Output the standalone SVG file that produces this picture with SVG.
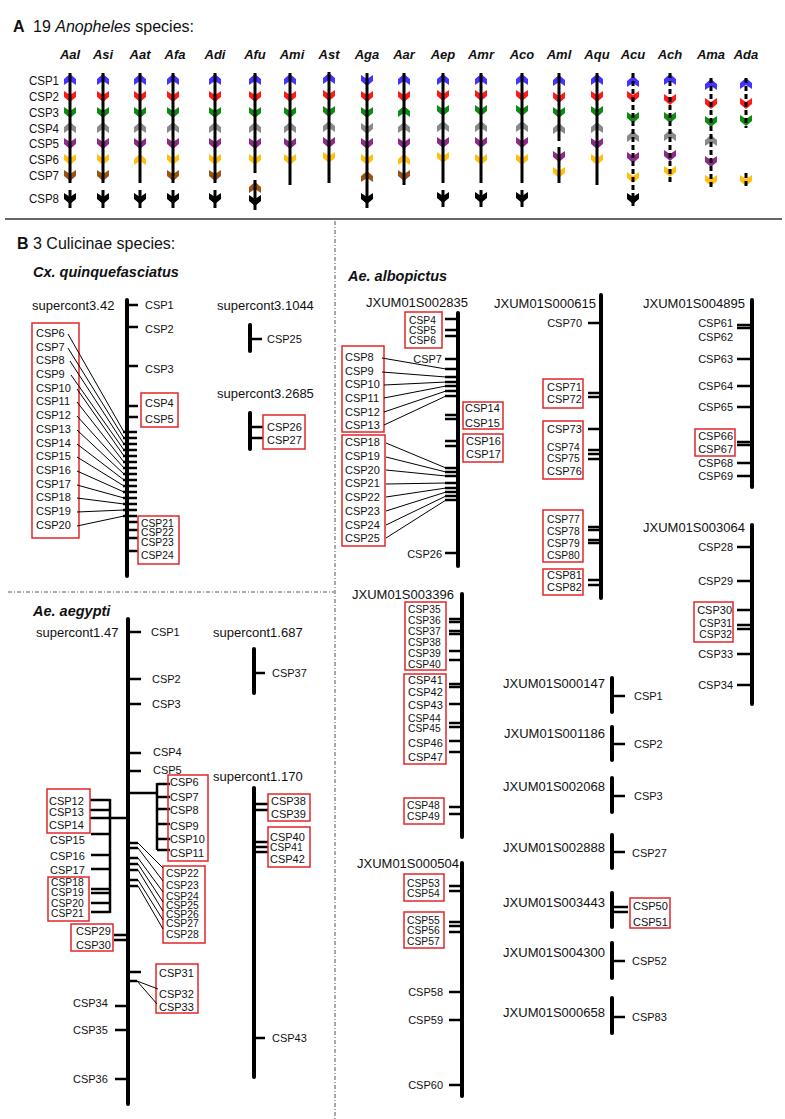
<svg xmlns="http://www.w3.org/2000/svg" xmlns:xlink="http://www.w3.org/1999/xlink" width="785" height="1119" viewBox="0 0 785 1119">
<style>
text{font-family:"Liberation Sans",Arial,sans-serif;fill:#111}
.s{font-size:11px}
.n{font-size:10.3px}
.L{font-size:13px}
.r{font-size:12.5px}
.e{text-anchor:end}
.m{text-anchor:middle}
.sp{font-size:13px;font-weight:bold;font-style:italic;text-anchor:middle}
.ttl{font-size:16px}
.sub{font-size:14.5px;font-weight:bold;font-style:italic}
.la{stroke:#000;stroke-width:3;fill:none}
.ld{stroke:#000;stroke-width:3;fill:none;stroke-dasharray:5 3}
.chr{stroke:#000;stroke-width:4;stroke-linecap:round;fill:none}
.tk{stroke:#000;stroke-width:2.5;fill:none}
.th{stroke:#000;stroke-width:1;fill:none}
.box{fill:none;stroke:#e3262a;stroke-width:1.5}
.dd{stroke:#555;stroke-width:1;stroke-dasharray:4 2 1 2;fill:none}
.c1{fill:#4433ff}.c2{fill:#ff1a1a}.c3{fill:#0f8a12}.c4{fill:#8a8a8a}.c5{fill:#8e2a8a}.c6{fill:#ffc010}.c7{fill:#9a5418}.c8{fill:#000}
</style>
<defs>
<path id="u" d="M0,-6L6,-1L6,5L0,1L-6,5L-6,-1Z"/>
<path id="d" d="M0,6L6,1L6,-5L0,-1L-6,-5L-6,1Z"/>
</defs>
<rect width="785" height="1119" fill="#fff"/>

<!-- Panel A -->
<g id="panelA-title">
<text x="13" y="32" style="font-size:16px;font-weight:bold">A</text>
<text x="33" y="32" class="ttl">19 <tspan font-style="italic">Anopheles</tspan> species:</text>
</g>
<g id="rowlabels">
<text x="29" y="85" class="r" textLength="30" lengthAdjust="spacingAndGlyphs">CSP1</text>
<text x="29" y="101" class="r" textLength="30" lengthAdjust="spacingAndGlyphs">CSP2</text>
<text x="29" y="117" class="r" textLength="30" lengthAdjust="spacingAndGlyphs">CSP3</text>
<text x="29" y="133" class="r" textLength="30" lengthAdjust="spacingAndGlyphs">CSP4</text>
<text x="29" y="148" class="r" textLength="30" lengthAdjust="spacingAndGlyphs">CSP5</text>
<text x="29" y="164" class="r" textLength="30" lengthAdjust="spacingAndGlyphs">CSP6</text>
<text x="29" y="180" class="r" textLength="30" lengthAdjust="spacingAndGlyphs">CSP7</text>
<text x="29" y="203" class="r" textLength="30" lengthAdjust="spacingAndGlyphs">CSP8</text>
</g>
<g id="specieslabels">
<text x="70" y="59" class="sp">Aal</text>
<text x="103" y="59" class="sp">Asi</text>
<text x="140" y="59" class="sp">Aat</text>
<text x="175" y="59" class="sp">Afa</text>
<text x="215" y="59" class="sp">Adi</text>
<text x="255" y="59" class="sp">Afu</text>
<text x="292" y="59" class="sp">Ami</text>
<text x="329" y="59" class="sp">Ast</text>
<text x="367" y="59" class="sp">Aga</text>
<text x="404" y="59" class="sp">Aar</text>
<text x="443" y="59" class="sp">Aep</text>
<text x="481" y="59" class="sp">Amr</text>
<text x="522" y="59" class="sp">Aco</text>
<text x="559" y="59" class="sp">Aml</text>
<text x="597" y="59" class="sp">Aqu</text>
<text x="633" y="59" class="sp">Acu</text>
<text x="670" y="59" class="sp">Ach</text>
<text x="711" y="59" class="sp">Ama</text>
<text x="746" y="59" class="sp">Ada</text>
</g>

<g id="Aal">
<use href="#u" x="70" y="80" class="c1"/><use href="#d" x="70" y="96" class="c2"/><use href="#d" x="70" y="112" class="c3"/><use href="#u" x="70" y="128" class="c4"/><use href="#d" x="70" y="143" class="c5"/><use href="#d" x="70" y="159" class="c6"/><use href="#d" x="70" y="175" class="c7"/><use href="#d" x="70" y="198" class="c8"/>
<line x1="70" y1="73" x2="70" y2="183" class="la"/><line x1="70" y1="190" x2="70" y2="208" class="la"/>
</g>
<g id="Asi">
<use href="#u" x="103" y="80" class="c1"/><use href="#d" x="103" y="96" class="c2"/><use href="#d" x="103" y="112" class="c3"/><use href="#u" x="103" y="128" class="c4"/><use href="#d" x="103" y="143" class="c5"/><use href="#d" x="103" y="159" class="c6"/><use href="#d" x="103" y="175" class="c7"/><use href="#d" x="103" y="198" class="c8"/>
<line x1="103" y1="73" x2="103" y2="183" class="la"/><line x1="103" y1="190" x2="103" y2="208" class="la"/>
</g>
<g id="Aat">
<use href="#u" x="140" y="80" class="c1"/><use href="#d" x="140" y="96" class="c2"/><use href="#d" x="140" y="112" class="c3"/><use href="#u" x="140" y="128" class="c4"/><use href="#d" x="140" y="143" class="c5"/><use href="#u" x="140" y="160" class="c6"/><use href="#d" x="140" y="198" class="c8"/>
<line x1="140" y1="73" x2="140" y2="183" class="la"/><line x1="140" y1="190" x2="140" y2="208" class="la"/>
</g>
<g id="Afa">
<use href="#u" x="173" y="80" class="c1"/><use href="#d" x="173" y="96" class="c2"/><use href="#d" x="173" y="112" class="c3"/><use href="#u" x="173" y="128" class="c4"/><use href="#d" x="173" y="143" class="c5"/><use href="#d" x="173" y="159" class="c6"/><use href="#d" x="173" y="175" class="c7"/><use href="#d" x="173" y="198" class="c8"/>
<line x1="173" y1="73" x2="173" y2="183" class="la"/><line x1="173" y1="190" x2="173" y2="208" class="la"/>
</g>
<g id="Adi">
<use href="#u" x="215" y="80" class="c1"/><use href="#d" x="215" y="96" class="c2"/><use href="#d" x="215" y="112" class="c3"/><use href="#u" x="215" y="128" class="c4"/><use href="#d" x="215" y="143" class="c5"/><use href="#d" x="215" y="159" class="c6"/><use href="#d" x="215" y="175" class="c7"/><use href="#d" x="215" y="198" class="c8"/>
<line x1="215" y1="73" x2="215" y2="183" class="la"/><line x1="215" y1="190" x2="215" y2="208" class="la"/>
</g>
<g id="Afu">
<use href="#u" x="255" y="80" class="c1"/><use href="#d" x="255" y="96" class="c2"/><use href="#d" x="255" y="112" class="c3"/><use href="#u" x="255" y="128" class="c4"/><use href="#d" x="255" y="143" class="c5"/><use href="#d" x="255" y="159" class="c6"/><use href="#u" x="255" y="188" class="c7"/><use href="#d" x="255" y="200" class="c8"/>
<line x1="255" y1="73" x2="255" y2="173" class="la"/><line x1="255" y1="180" x2="255" y2="210" class="la"/>
</g>
<g id="Ami">
<use href="#u" x="290" y="80" class="c1"/><use href="#d" x="290" y="96" class="c2"/><use href="#d" x="290" y="112" class="c3"/><use href="#u" x="290" y="128" class="c4"/><use href="#d" x="290" y="143" class="c5"/><use href="#d" x="290" y="159" class="c6"/>
<line x1="290" y1="73" x2="290" y2="185" class="la"/>
</g>
<g id="Ast">
<use href="#u" x="329" y="79" class="c1"/><use href="#d" x="329" y="95" class="c2"/><use href="#d" x="329" y="111" class="c3"/><use href="#u" x="329" y="127" class="c4"/><use href="#d" x="329" y="142" class="c5"/><use href="#d" x="329" y="157" class="c6"/>
<line x1="329" y1="72" x2="329" y2="183" class="la"/>
</g>
<g id="Aga">
<use href="#d" x="367" y="80" class="c1"/><use href="#d" x="367" y="96" class="c2"/><use href="#d" x="367" y="112" class="c3"/><use href="#d" x="367" y="128" class="c4"/><use href="#d" x="367" y="143" class="c5"/><use href="#d" x="367" y="159" class="c6"/><use href="#u" x="367" y="177" class="c7"/><use href="#d" x="367" y="198" class="c8"/>
<line x1="367" y1="73" x2="367" y2="208" class="la"/>
</g>
<g id="Aar">
<use href="#u" x="404" y="80" class="c1"/><use href="#d" x="404" y="96" class="c2"/><use href="#u" x="404" y="112" class="c3"/><use href="#u" x="404" y="128" class="c4"/><use href="#d" x="404" y="143" class="c5"/><use href="#u" x="404" y="160" class="c6"/><use href="#d" x="404" y="175" class="c7"/>
<line x1="404" y1="73" x2="404" y2="185" class="la"/>
</g>
<g id="Aep">
<use href="#u" x="443" y="80" class="c1"/><use href="#d" x="443" y="95" class="c2"/><use href="#d" x="443" y="110" class="c3"/><use href="#u" x="443" y="127" class="c4"/><use href="#d" x="443" y="142" class="c5"/><use href="#d" x="443" y="157" class="c6"/><use href="#d" x="443" y="197" class="c8"/>
<line x1="443" y1="73" x2="443" y2="183" class="la"/><line x1="443" y1="190" x2="443" y2="207" class="la"/>
</g>
<g id="Amr">
<use href="#u" x="481" y="80" class="c1"/><use href="#d" x="481" y="95" class="c2"/><use href="#d" x="481" y="110" class="c3"/><use href="#u" x="481" y="127" class="c4"/><use href="#d" x="481" y="142" class="c5"/><use href="#d" x="481" y="159" class="c6"/><use href="#d" x="481" y="197" class="c8"/>
<line x1="481" y1="73" x2="481" y2="183" class="la"/><line x1="481" y1="190" x2="481" y2="207" class="la"/>
</g>
<g id="Aco">
<use href="#u" x="522" y="80" class="c1"/><use href="#d" x="522" y="95" class="c2"/><use href="#d" x="522" y="110" class="c3"/><use href="#u" x="522" y="127" class="c4"/><use href="#d" x="522" y="142" class="c5"/><use href="#d" x="522" y="159" class="c6"/><use href="#d" x="522" y="197" class="c8"/>
<line x1="522" y1="73" x2="522" y2="183" class="la"/><line x1="522" y1="190" x2="522" y2="207" class="la"/>
</g>
<g id="Aml">
<use href="#u" x="559" y="81" class="c1"/><use href="#d" x="559" y="97" class="c2"/><use href="#d" x="559" y="112" class="c3"/><use href="#u" x="559" y="129" class="c4"/><use href="#d" x="559" y="156" class="c5"/><use href="#d" x="559" y="172" class="c6"/>
<line x1="559" y1="73" x2="559" y2="141" class="la"/><line x1="559" y1="147" x2="559" y2="183" class="la"/>
</g>
<g id="Aqu">
<use href="#u" x="597" y="80" class="c1"/><use href="#d" x="597" y="96" class="c2"/><use href="#d" x="597" y="111" class="c3"/><use href="#u" x="597" y="128" class="c4"/><use href="#d" x="597" y="143" class="c5"/><use href="#d" x="597" y="159" class="c6"/>
<line x1="597" y1="73" x2="597" y2="185" class="la"/>
</g>
<g id="Acu">
<use href="#u" x="633" y="82" class="c1"/><use href="#d" x="633" y="96" class="c2"/><use href="#d" x="633" y="117" class="c3"/><use href="#u" x="633" y="137" class="c4"/><use href="#d" x="633" y="157" class="c5"/><use href="#d" x="633" y="177" class="c6"/><use href="#d" x="633" y="198" class="c8"/>
<line x1="633" y1="73" x2="633" y2="208" class="ld"/>
</g>
<g id="Ach">
<use href="#u" x="670" y="80" class="c1"/><use href="#d" x="670" y="99" class="c2"/><use href="#d" x="670" y="117" class="c3"/><use href="#u" x="670" y="136" class="c4"/><use href="#d" x="670" y="155" class="c5"/><use href="#d" x="670" y="171" class="c6"/>
<line x1="670" y1="73" x2="670" y2="183" class="ld"/>
</g>
<g id="Ama">
<use href="#u" x="711" y="85" class="c1"/><use href="#d" x="711" y="103" class="c2"/><use href="#d" x="711" y="121" class="c3"/><use href="#u" x="711" y="141" class="c4"/><use href="#d" x="711" y="161" class="c5"/><use href="#d" x="711" y="180" class="c6"/>
<line x1="711" y1="78" x2="711" y2="187" class="ld"/>
</g>
<g id="Ada">
<use href="#u" x="746" y="84" class="c1"/><use href="#d" x="746" y="103" class="c2"/><use href="#d" x="746" y="120" class="c3"/><use href="#d" x="746" y="180" class="c6"/>
<line x1="746" y1="78" x2="746" y2="128" class="ld"/><line x1="746" y1="173" x2="746" y2="187" class="ld"/>
</g>

<g id="dividers">
<line x1="5" y1="219" x2="782" y2="219" stroke="#333" stroke-width="1.5"/>
<line x1="335" y1="221" x2="335" y2="1119" class="dd"/>
<line x1="8" y1="592" x2="334" y2="592" class="dd"/>
</g>

<!-- Panel B -->
<g id="panelB-title">
<text x="17" y="249" style="font-size:16px;font-weight:bold">B</text>
<text x="33" y="249" class="ttl">3 Culicinae species:</text>
<text x="33" y="277" class="sub">Cx. quinquefasciatus</text>
<text x="33" y="616" class="sub">Ae. aegypti</text>
<text x="348" y="281" class="sub">Ae. albopictus</text>
</g>

<g id="supercont3.42">
<text x="32" y="310" class="L">supercont3.42</text>
<line x1="127" y1="300" x2="127" y2="576" class="chr"/>
<path class="tk" d="M127 305H138M127 327H138M127 366H138M127 406H138M127 417H138"/>
<path class="tk" d="M123 432H137M123 438H137M123 444H137M123 450H137M123 456H137M123 462H137M123 468H137M123 474H137M123 480H137M123 486H137M123 492H137M123 498H137M123 504H137M123 510H137M123 516H137"/>
<path class="tk" d="M127 522H138M127 530H138M127 538H138M127 551H138"/>
<text x="145" y="309" class="s">CSP1</text>
<text x="145" y="333" class="s">CSP2</text>
<text x="145" y="373" class="s">CSP3</text>
<rect x="141" y="393" width="37" height="34" class="box"/>
<text x="145" y="407" class="s">CSP4</text>
<text x="145" y="423" class="s">CSP5</text>
<rect x="32" y="323" width="47" height="215" class="box"/>
<text x="36" y="337" class="s">CSP6</text>
<text x="36" y="351" class="s">CSP7</text>
<text x="36" y="364" class="s">CSP8</text>
<text x="36" y="378" class="s">CSP9</text>
<text x="36" y="392" class="s">CSP10</text>
<text x="36" y="405" class="s">CSP11</text>
<text x="36" y="419" class="s">CSP12</text>
<text x="36" y="433" class="s">CSP13</text>
<text x="36" y="447" class="s">CSP14</text>
<text x="36" y="460" class="s">CSP15</text>
<text x="36" y="474" class="s">CSP16</text>
<text x="36" y="488" class="s">CSP17</text>
<text x="36" y="501" class="s">CSP18</text>
<text x="36" y="515" class="s">CSP19</text>
<text x="36" y="529" class="s">CSP20</text>
<rect x="138" y="516" width="41" height="48" class="box"/>
<text x="141" y="527" class="n">CSP21</text>
<text x="141" y="536" class="n">CSP22</text>
<text x="141" y="546" class="n">CSP23</text>
<text x="141" y="559" class="n">CSP24</text>
</g>
<g id="supercont3.1044">
<text x="217" y="310" class="L">supercont3.1044</text>
<line x1="250" y1="325" x2="250" y2="351" class="chr"/>
<path class="tk" d="M250 339H262"/>
<text x="267" y="343" class="s">CSP25</text>
</g>
<g id="supercont3.2685">
<text x="217" y="398" class="L">supercont3.2685</text>
<line x1="250" y1="413" x2="250" y2="449" class="chr"/>
<path class="tk" d="M250 427H263M250 438H263"/>
<rect x="263" y="415" width="42" height="34" class="box"/>
<text x="267" y="431" class="s">CSP26</text>
<text x="267" y="444" class="s">CSP27</text>
</g>

<g id="supercont1.47">
<text x="36" y="637" class="L">supercont1.47</text>
<line x1="128" y1="619" x2="128" y2="1104" class="chr"/>
<path class="tk" d="M128 632H141M128 679H141M128 704H141M128 753H141M128 771H141"/>
<text x="151" y="636" class="s">CSP1</text>
<text x="152" y="683" class="s">CSP2</text>
<text x="152" y="708" class="s">CSP3</text>
<text x="153" y="756" class="s">CSP4</text>
<text x="153" y="774" class="s">CSP5</text>
<path class="tk" d="M128 793H157M157 783V850M157 784H170M157 797H170M157 809H170M157 824H170M157 839H170M157 850H170"/>
<rect x="168" y="775" width="40" height="86" class="box"/>
<text x="170" y="786" class="s">CSP6</text>
<text x="170" y="801" class="s">CSP7</text>
<text x="170" y="814" class="s">CSP8</text>
<text x="170" y="830" class="s">CSP9</text>
<text x="170" y="843" class="s">CSP10</text>
<text x="170" y="857" class="s">CSP11</text>
<path class="tk" d="M90 800H110M90 810H110M90 818H128M110 799V913M91 834H110M91 855H110M91 869H110M91 889H110M91 893H110M91 903H110M91 912H110"/>
<rect x="47" y="789" width="43" height="44" class="box"/>
<text x="49" y="805" class="s">CSP12</text>
<text x="49" y="816" class="s">CSP13</text>
<text x="49" y="829" class="s">CSP14</text>
<text x="50" y="844" class="s">CSP15</text>
<text x="50" y="860" class="s">CSP16</text>
<text x="50" y="874" class="s">CSP17</text>
<rect x="48" y="877" width="41" height="44" class="box"/>
<text x="51" y="886" class="n">CSP18</text>
<text x="51" y="896" class="n">CSP19</text>
<text x="51" y="907" class="n">CSP20</text>
<text x="51" y="917" class="n">CSP21</text>
<path class="tk" d="M114 935H128M114 940H128"/>
<rect x="71" y="924" width="42" height="27" class="box"/>
<text x="76" y="935" class="s">CSP29</text>
<text x="76" y="949" class="s">CSP30</text>
<path class="tk" d="M128 843H138M128 848H138M128 858H138M128 864H138M128 870H138M128 880H138M128 886H138"/>
<rect x="163" y="866" width="42" height="77" class="box"/>
<text x="166" y="877" class="n">CSP22</text>
<text x="166" y="889" class="n">CSP23</text>
<text x="166" y="900" class="n">CSP24</text>
<text x="166" y="909" class="n">CSP25</text>
<text x="166" y="918" class="n">CSP26</text>
<text x="166" y="927" class="n">CSP27</text>
<text x="166" y="938" class="n">CSP28</text>
<path class="tk" d="M128 972H141M128 981H137"/>
<rect x="156" y="964" width="42" height="49" class="box"/>
<text x="159" y="977" class="s">CSP31</text>
<text x="159" y="998" class="s">CSP32</text>
<text x="159" y="1011" class="s">CSP33</text>
<path class="tk" d="M115 1006H128M115 1030H128M115 1079H128"/>
<text x="73" y="1007" class="s">CSP34</text>
<text x="73" y="1034" class="s">CSP35</text>
<text x="73" y="1083" class="s">CSP36</text>
</g>
<g id="supercont1.687">
<text x="213" y="637" class="L">supercont1.687</text>
<line x1="254" y1="649" x2="254" y2="693" class="chr"/>
<path class="tk" d="M254 673H265"/>
<text x="272" y="677" class="s">CSP37</text>
</g>
<g id="supercont1.170">
<text x="213" y="781" class="L">supercont1.170</text>
<line x1="254" y1="788" x2="254" y2="1077" class="chr"/>
<path class="tk" d="M254 804H268M254 810H268M254 842H268M254 847H268M254 852H268M254 1038H265"/>
<rect x="268" y="794" width="42" height="27" class="box"/>
<text x="271" y="805" class="s">CSP38</text>
<text x="271" y="818" class="s">CSP39</text>
<rect x="268" y="827" width="42" height="40" class="box"/>
<text x="270" y="841" class="s">CSP40</text>
<text x="270" y="851" class="n">CSP41</text>
<text x="270" y="863" class="s">CSP42</text>
<text x="272" y="1042" class="s">CSP43</text>
</g>

<g id="JXUM01S002835">
<text x="366" y="307" class="L">JXUM01S002835</text>
<line x1="458" y1="313" x2="458" y2="566" class="chr"/>
<path class="tk" d="M445 319H458M445 330H458M445 336H458M445 359H458M445 369H458M445 377H458M445 382H458M445 386H458M445 391H458M445 396H458M445 415H458M445 419H458M445 441H458M445 446H458M445 468H458M445 472H458M445 476H458M445 483H458M445 488H458M445 492H458M445 496H458M445 500H458M445 553H458"/>
<rect x="405" y="312" width="37" height="36" class="box"/>
<text x="409" y="324" class="n">CSP4</text>
<text x="409" y="334" class="n">CSP5</text>
<text x="409" y="344" class="n">CSP6</text>
<text x="442" y="363" class="s e">CSP7</text>
<rect x="342" y="346" width="42" height="86" class="box"/>
<text x="345" y="361" class="s">CSP8</text>
<text x="345" y="375" class="s">CSP9</text>
<text x="345" y="388" class="s">CSP10</text>
<text x="345" y="402" class="s">CSP11</text>
<text x="345" y="416" class="s">CSP12</text>
<text x="345" y="429" class="s">CSP13</text>
<rect x="463" y="402" width="40" height="27" class="box"/>
<text x="465" y="412" class="s">CSP14</text>
<text x="465" y="427" class="s">CSP15</text>
<rect x="463" y="434" width="40" height="28" class="box"/>
<text x="466" y="445" class="s">CSP16</text>
<text x="466" y="458" class="s">CSP17</text>
<rect x="342" y="435" width="43" height="111" class="box"/>
<text x="345" y="446" class="s">CSP18</text>
<text x="345" y="460" class="s">CSP19</text>
<text x="345" y="474" class="s">CSP20</text>
<text x="345" y="487" class="s">CSP21</text>
<text x="345" y="501" class="s">CSP22</text>
<text x="345" y="515" class="s">CSP23</text>
<text x="345" y="529" class="s">CSP24</text>
<text x="345" y="542" class="s">CSP25</text>
<text x="442" y="558" class="s e">CSP26</text>
</g>
<g id="JXUM01S000615">
<text x="494" y="308" class="L">JXUM01S000615</text>
<line x1="601" y1="295" x2="601" y2="598" class="chr"/>
<path class="tk" d="M588 323H601M588 393H601M588 397H601M588 429H601M588 450H601M588 454H601M588 459H601M588 527H601M588 530H601M588 540H601M588 543H601M588 580H601M588 585H601"/>
<text x="582" y="327" class="s e">CSP70</text>
<rect x="543" y="379" width="40" height="29" class="box"/>
<text x="547" y="391" class="s">CSP71</text>
<text x="547" y="403" class="s">CSP72</text>
<rect x="543" y="421" width="40" height="58" class="box"/>
<text x="547" y="433" class="s">CSP73</text>
<text x="547" y="451" class="n">CSP74</text>
<text x="547" y="462" class="n">CSP75</text>
<text x="547" y="475" class="s">CSP76</text>
<rect x="543" y="510" width="40" height="52" class="box"/>
<text x="547" y="523" class="n">CSP77</text>
<text x="547" y="535" class="n">CSP78</text>
<text x="547" y="547" class="n">CSP79</text>
<text x="547" y="559" class="n">CSP80</text>
<rect x="543" y="569" width="40" height="26" class="box"/>
<text x="547" y="579" class="s">CSP81</text>
<text x="547" y="591" class="s">CSP82</text>
</g>
<g id="JXUM01S004895">
<text x="643" y="308" class="L">JXUM01S004895</text>
<line x1="752" y1="300" x2="752" y2="487" class="chr"/>
<path class="tk" d="M737 325H752M737 328H752M737 359H752M737 386H752M737 407H752M737 442H752M737 445H752M737 463H752M737 476H752"/>
<text x="733" y="327" class="s e">CSP61</text>
<text x="733" y="341" class="s e">CSP62</text>
<text x="733" y="363" class="s e">CSP63</text>
<text x="733" y="390" class="s e">CSP64</text>
<text x="733" y="411" class="s e">CSP65</text>
<rect x="695" y="429" width="40" height="27" class="box"/>
<text x="733" y="440" class="s e">CSP66</text>
<text x="733" y="453" class="s e">CSP67</text>
<text x="733" y="467" class="s e">CSP68</text>
<text x="733" y="480" class="s e">CSP69</text>
</g>
<g id="JXUM01S003064">
<text x="643" y="532" class="L">JXUM01S003064</text>
<line x1="752" y1="525" x2="752" y2="704" class="chr"/>
<path class="tk" d="M737 547H752M737 581H752M737 610H752M737 625H752M737 629H752M737 654H752M737 685H752"/>
<text x="733" y="551" class="s e">CSP28</text>
<text x="733" y="585" class="s e">CSP29</text>
<rect x="694" y="602" width="39" height="40" class="box"/>
<text x="732" y="614" class="s e">CSP30</text>
<text x="732" y="627" class="n e">CSP31</text>
<text x="732" y="638" class="n e">CSP32</text>
<text x="733" y="658" class="s e">CSP33</text>
<text x="733" y="689" class="s e">CSP34</text>
</g>
<g id="JXUM01S003396">
<text x="352" y="599" class="L">JXUM01S003396</text>
<line x1="462" y1="594" x2="462" y2="837" class="chr"/>
<path class="tk" d="M449 619H462M449 622H462M449 631H462M449 634H462M449 651H462M449 660H462M449 684H462M449 687H462M449 704H462M449 723H462M449 727H462M449 741H462M449 752H462M449 807H462M449 814H462"/>
<rect x="405" y="602" width="41" height="68" class="box"/>
<text x="408" y="613" class="n">CSP35</text>
<text x="408" y="624" class="n">CSP36</text>
<text x="408" y="635" class="n">CSP37</text>
<text x="408" y="646" class="n">CSP38</text>
<text x="408" y="657" class="n">CSP39</text>
<text x="408" y="668" class="n">CSP40</text>
<rect x="404" y="674" width="42" height="90" class="box"/>
<text x="408" y="684" class="s">CSP41</text>
<text x="408" y="696" class="s">CSP42</text>
<text x="408" y="709" class="s">CSP43</text>
<text x="408" y="722" class="n">CSP44</text>
<text x="408" y="732" class="n">CSP45</text>
<text x="408" y="747" class="s">CSP46</text>
<text x="408" y="761" class="s">CSP47</text>
<rect x="404" y="798" width="40" height="26" class="box"/>
<text x="407" y="809" class="n">CSP48</text>
<text x="407" y="820" class="n">CSP49</text>
</g>
<g id="JXUM01S000504">
<text x="357" y="868" class="L">JXUM01S000504</text>
<line x1="462" y1="863" x2="462" y2="1096" class="chr"/>
<path class="tk" d="M449 886H462M449 891H462M449 922H462M449 926H462M449 932H462M449 992H462M449 1020H462M449 1085H462"/>
<rect x="404" y="874" width="40" height="27" class="box"/>
<text x="407" y="887" class="n">CSP53</text>
<text x="407" y="897" class="n">CSP54</text>
<rect x="404" y="912" width="40" height="36" class="box"/>
<text x="407" y="924" class="n">CSP55</text>
<text x="407" y="934" class="n">CSP56</text>
<text x="407" y="945" class="n">CSP57</text>
<text x="443" y="996" class="s e">CSP58</text>
<text x="443" y="1024" class="s e">CSP59</text>
<text x="443" y="1089" class="s e">CSP60</text>
</g>
<g id="JXUM01S000147">
<text x="605" y="688" class="L e">JXUM01S000147</text>
<line x1="612" y1="678" x2="612" y2="712" class="chr"/>
<path class="tk" d="M612 696H625"/>
<text x="634" y="700" class="s">CSP1</text>
</g>
<g id="JXUM01S001186">
<text x="605" y="738" class="L e">JXUM01S001186</text>
<line x1="612" y1="727" x2="612" y2="760" class="chr"/>
<path class="tk" d="M612 744H625"/>
<text x="634" y="748" class="s">CSP2</text>
</g>
<g id="JXUM01S002068">
<text x="605" y="791" class="L e">JXUM01S002068</text>
<line x1="612" y1="778" x2="612" y2="812" class="chr"/>
<path class="tk" d="M612 796H625"/>
<text x="634" y="800" class="s">CSP3</text>
</g>
<g id="JXUM01S002888">
<text x="605" y="852" class="L e">JXUM01S002888</text>
<line x1="612" y1="835" x2="612" y2="868" class="chr"/>
<path class="tk" d="M612 852H625"/>
<text x="632" y="857" class="s">CSP27</text>
</g>
<g id="JXUM01S003443">
<text x="605" y="907" class="L e">JXUM01S003443</text>
<line x1="612" y1="893" x2="612" y2="927" class="chr"/>
<path class="tk" d="M612 907H628M612 912H628"/>
<rect x="630" y="898" width="40" height="30" class="box"/>
<text x="633" y="910" class="s">CSP50</text>
<text x="633" y="926" class="s">CSP51</text>
</g>
<g id="JXUM01S004300">
<text x="605" y="957" class="L e">JXUM01S004300</text>
<line x1="612" y1="943" x2="612" y2="978" class="chr"/>
<path class="tk" d="M612 961H625"/>
<text x="632" y="965" class="s">CSP52</text>
</g>
<g id="JXUM01S000658">
<text x="605" y="1017" class="L e">JXUM01S000658</text>
<line x1="612" y1="998" x2="612" y2="1033" class="chr"/>
<path class="tk" d="M612 1017H625"/>
<text x="632" y="1021" class="s">CSP83</text>
</g>

<g id="connectors">
<path class="th" d="M68 334L124 432M68 348L124 438M70 361L124 444M71 375L124 450M77 389L124 456M77 402L124 462M77 416L124 468M77 430L124 474M77 444L124 480M77 457L124 486M77 471L124 492M77 485L124 498M77 498L124 504M77 512L124 510M77 526L124 516"/>
<path class="th" d="M138 843L163 868M138 848L163 881M138 858L163 892M138 864L163 902M138 870L163 911M138 880L163 920M138 886L163 929"/>
<path class="th" d="M137 981L158 989M137 981L157 1004"/>
<path class="th" d="M382 358L446 369M382 372L446 377M384 385L446 382M384 398L446 386M384 412L446 391M384 425L446 396"/>
<path class="th" d="M386 443L446 468M386 457L446 472M386 470L446 476M386 484L446 483M386 497L446 488M386 511L446 492M386 525L446 496M386 538L446 500"/>
</g>
</svg>
